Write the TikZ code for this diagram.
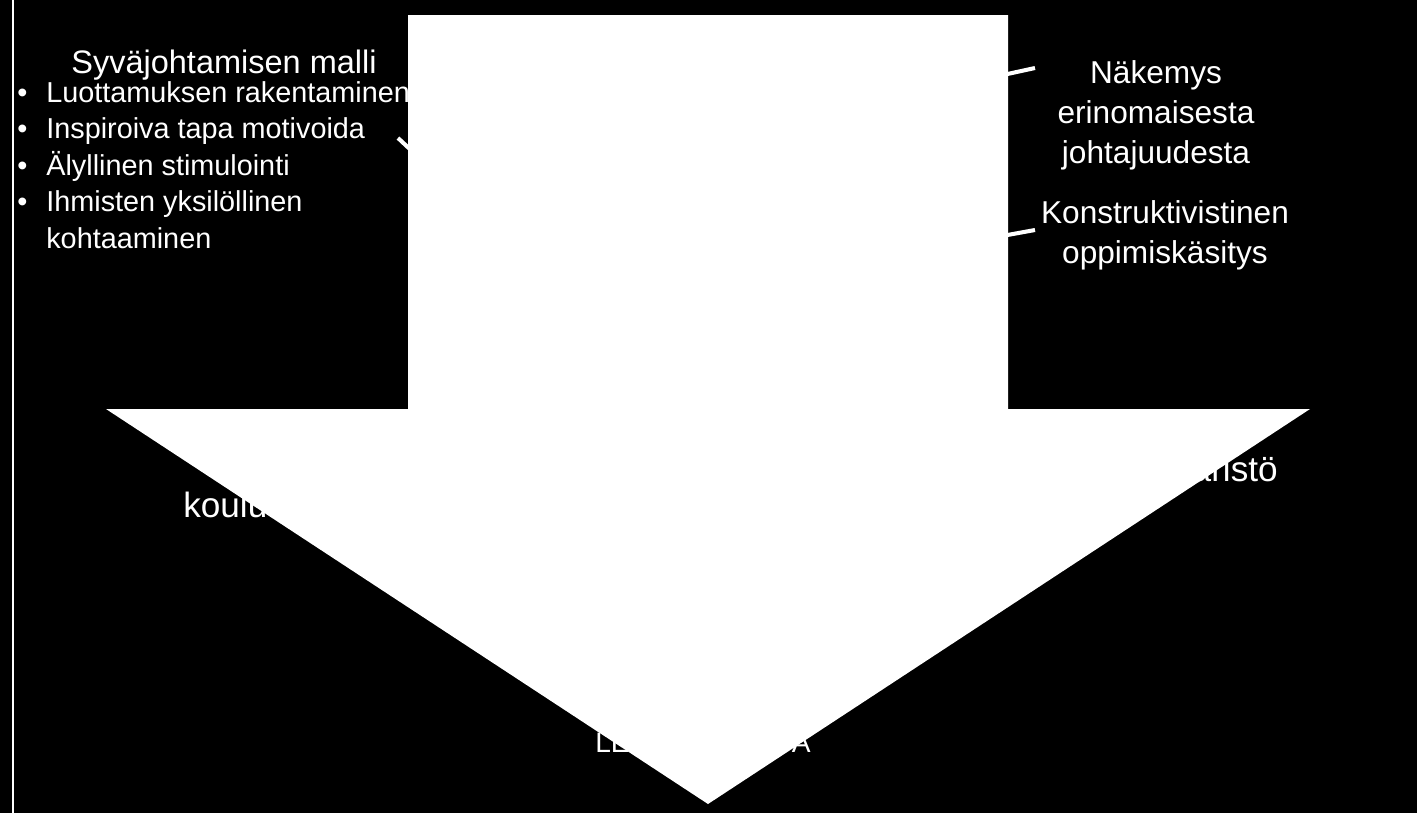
\documentclass[tikz,border=0pt]{standalone}
\usepackage{fontspec}
\setmainfont{Liberation Sans}
\usetikzlibrary{positioning}

\newcommand{\merkki}{\makebox[16.5pt][l]{\textbullet}}

\begin{document}
\begin{tikzpicture}[
    x=0.02cm, y=-0.02cm,
    teksti/.style={text=white, inner sep=0pt, font=\fontsize{#1}{#1}\selectfont},
    lista/.style={text=white, inner sep=0pt, anchor=base west, font=\fontsize{16.4}{20.8}\selectfont},
    sivu/.style={text=white, inner sep=0pt, anchor=base, font=\fontsize{18}{22.8}\selectfont},
    yhteys/.style={draw=white, line width=2.3pt}
]
    % Background and frame line
    \useasboundingbox (0,0) rectangle (1417,812);
    \fill[black] (-10,-10) rectangle (1427,822);
    \draw[white, line width=1.2pt] (13,-10) -- (13,822);

    % Left block (leadership model)
    \node[teksti=18.5, anchor=base] (malli) at (224,73) {Syväjohtamisen malli};
    \node[lista] (piirteet) at (17,102) {\begin{tabular}[t]{@{}l@{}}
        \merkki Luottamuksen rakentaminen\\
        \merkki Inspiroiva tapa motivoida\\
        \merkki Älyllinen stimulointi\\
        \merkki Ihmisten yksilöllinen\\
        \hspace{16.5pt}kohtaaminen
    \end{tabular}};

    % Right block
    \node[sivu] (nakemys) at (1156,83) {\begin{tabular}[t]{@{}c@{}}Näkemys\\erinomaisesta\\johtajuudesta\end{tabular}};
    \node[sivu] (oppiminen) at (1165,223) {\begin{tabular}[t]{@{}c@{}}Konstruktivistinen\\oppimiskäsitys\end{tabular}};

    % Texts partly under the arrow
    \node[teksti=20, anchor=base west] (koulu) at (183,517) {koulut};
    \node[teksti=20, anchor=base east] (ymparisto) at (1278,481) {aristö};
    \node[teksti=16, anchor=base west] (ala1) at (595,752) {LE};
    \node[teksti=16, anchor=base east] (ala2) at (811,752) {A};

    % Connectors
    \coordinate (malli-p) at (398,138);
    \coordinate (malli-k) at (430,168);
    \coordinate (nakemys-p) at (1035,68);
    \coordinate (nakemys-k) at (980,80);
    \coordinate (oppi-p) at (1035,230);
    \coordinate (oppi-k) at (980,240);
    \draw[yhteys] (malli-p) -- (malli-k);
    \draw[yhteys] (nakemys-p) -- (nakemys-k);
    \draw[yhteys] (oppi-p) -- (oppi-k);

    % Big arrow
    \fill[white] (408,15) -- (1008,15) -- (1008,409) -- (1310,409) -- (708,804)
        -- (106,409) -- (408,409) -- cycle;
\end{tikzpicture}
\end{document}
